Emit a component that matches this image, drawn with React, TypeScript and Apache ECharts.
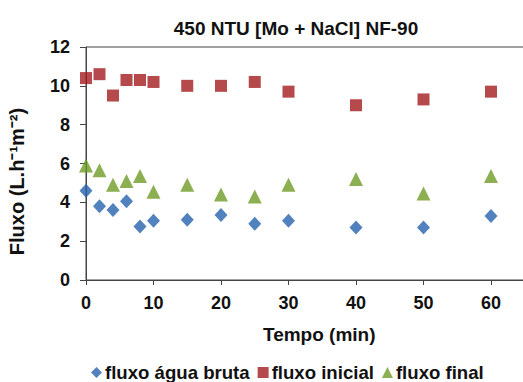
import React, { useEffect, useRef } from "react";
import * as echarts from "echarts";

const times = [0, 2, 4, 6, 8, 10, 15, 20, 25, 30, 40, 50, 60];
const fluxoAguaBruta = [4.6, 3.8, 3.6, 4.05, 2.75, 3.05, 3.1, 3.35, 2.9, 3.05, 2.7, 2.7, 3.3];
const fluxoInicial = [10.4, 10.6, 9.5, 10.3, 10.3, 10.2, 10.0, 10.0, 10.2, 9.7, 9.0, 9.3, 9.7];
const fluxoFinal = [5.9, 5.65, 4.9, 5.1, 5.35, 4.55, 4.9, 4.4, 4.3, 4.9, 5.2, 4.45, 5.35];
const seriesNames = ["fluxo água bruta", "fluxo inicial", "fluxo final"];

const pair = (vals: number[]) => times.map((t, i) => [t, vals[i]]);

export default function App() {
  const ref = useRef<HTMLDivElement>(null);
  useEffect(() => {
    if (!ref.current) return;
    const chart = echarts.init(ref.current, null, { renderer: "svg" });
    const font = "'Liberation Sans', Arial, sans-serif";
    chart.setOption({
      animation: false,
      textStyle: { fontFamily: font },
      title: {
        text: "450 NTU [Mo + NaCl] NF-90",
        left: 291,
        textAlign: "center",
        top: 14,
        textStyle: { fontFamily: font, fontWeight: "bold", fontSize: 19, color: "#111" },
      },
      grid: {
        left: 86,
        top: 47,
        height: 233,
        width: 472.5,
        outerBoundsMode: "none",
        containLabel: false,
        show: true,
        borderColor: "#444",
        borderWidth: 1,
      },
      legend: {
        left: 91,
        top: 363,
        padding: 0,
        itemWidth: 11,
        itemHeight: 11,
        itemGap: 8,
        textStyle: { fontFamily: font, fontWeight: "bold", fontSize: 18.6, color: "#111", padding: [0, 0, 0, -2] },
        data: [
          { name: seriesNames[0], icon: "diamond" },
          { name: seriesNames[1], icon: "rect" },
          { name: seriesNames[2], icon: "triangle" },
        ],
      },
      xAxis: {
        type: "value",
        min: 0,
        max: 70,
        interval: 10,
        name: "Tempo (min)",
        nameLocation: "middle",
        nameGap: 45,
        nameTextStyle: { fontFamily: font, fontWeight: "bold", fontSize: 19, color: "#111", padding: [0, 6, 0, 0] },
        axisLine: { lineStyle: { color: "#444", width: 1 } },
        axisTick: { show: true, length: 5, lineStyle: { color: "#444" } },
        axisLabel: { fontFamily: font, fontWeight: "bold", fontSize: 18, color: "#111", margin: 14, showMaxLabel: false },
        splitLine: { show: false },
      },
      yAxis: {
        type: "value",
        min: 0,
        max: 12,
        interval: 2,
        name: "Fluxo (L.h⁻¹m⁻²)",
        nameLocation: "middle",
        nameGap: 59,
        nameTextStyle: { fontFamily: font, fontWeight: "bold", fontSize: 20, color: "#111", padding: [0, 36, 0, 0] },
        axisLine: { show: true, lineStyle: { color: "#444", width: 1 } },
        axisTick: { show: true, length: 6, lineStyle: { color: "#444" } },
        axisLabel: { fontFamily: font, fontWeight: "bold", fontSize: 18, color: "#111", margin: 16 },
        splitLine: { show: false },
      },
      series: [
        {
          name: seriesNames[0],
          type: "scatter",
          symbol: "diamond",
          symbolSize: [13, 14],
          itemStyle: { color: "#2563AE" },
          data: pair(fluxoAguaBruta),
        },
        {
          name: seriesNames[1],
          type: "scatter",
          symbol: "rect",
          symbolSize: [12, 12],
          itemStyle: { color: "#A31C1E" },
          data: pair(fluxoInicial),
        },
        {
          name: seriesNames[2],
          type: "scatter",
          symbol: "triangle",
          symbolSize: [14, 14],
          itemStyle: { color: "#6E9B26" },
          data: pair(fluxoFinal),
        },
      ],
    });
    return () => chart.dispose();
  }, []);
  return (
    <div
      ref={ref}
      style={{ position: "absolute", left: 0, top: 0, width: 523, height: 382, background: "#fff" }}
    />
  );
}
